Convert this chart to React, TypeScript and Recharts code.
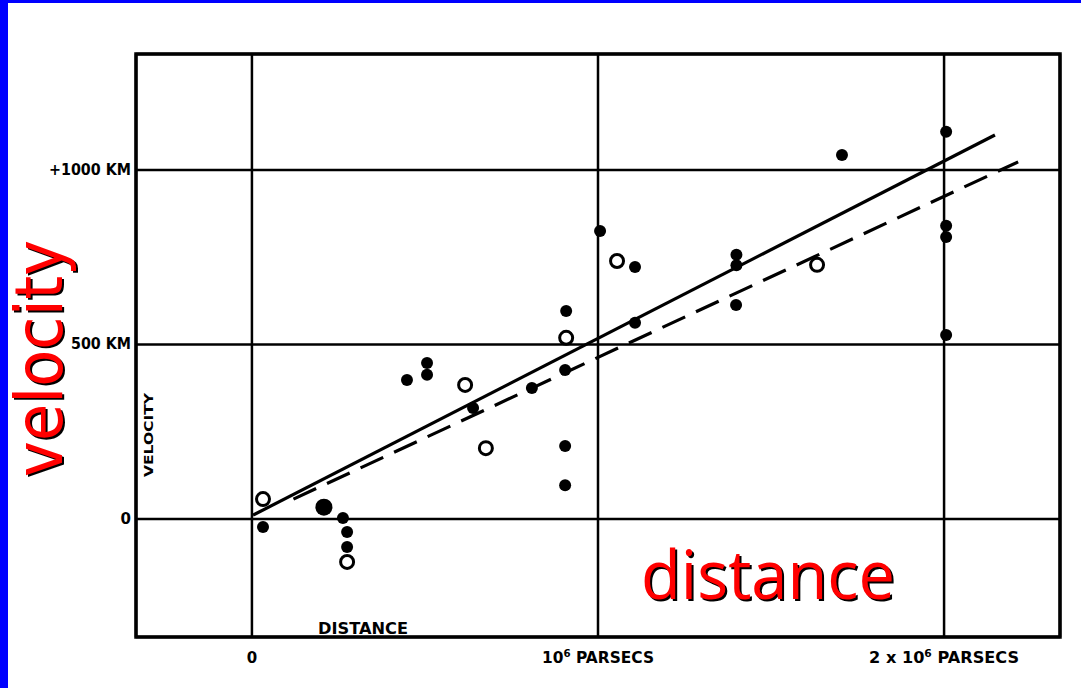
import { ReferenceArea, ReferenceLine, CartesianGrid, Scatter, ScatterChart, XAxis, YAxis } from "recharts"

// distance in megaparsecs, velocity in km/s
const filledDist = [0.032, 0.263, 0.275, 0.275, 0.448, 0.506, 0.506, 0.639, 0.809, 0.905, 0.905, 0.905, 0.908, 1.006, 1.107, 1.107, 1.4, 1.4, 1.399, 1.705, 2.006, 2.006, 2.006, 2.006]
const filledVel = [-23, 3, -37, -80, 398, 447, 413, 318, 375, 427, 209, 97, 596, 825, 722, 562, 757, 727, 613, 1043, 1109, 840, 808, 527]

const openDist = [0.032, 0.275, 0.616, 0.676, 0.908, 1.055, 1.633]
const openVel = [57, -123, 384, 203, 519, 739, 728]

const bigDist = [0.208]
const bigVel = [34]

const solidFitDist = [0.003, 2.147]
const solidFitVel = [11, 1100]
const dashedFitDist = [0.12, 2.214]
const dashedFitVel = [57, 1023]

const xTicks = [0, 1, 2]
const xTickLabels = [["0", "", ""], ["10", "6", " PARSECS"], ["2 x 10", "6", " PARSECS"]]
const xTickWidths = [0, 112, 150]
const yTicks = [0, 500, 1000]
const yTickLabels = ["0", "500 KM", "+1000 KM"]
const yTickWidths = [0, 60, 82]

const X_DOMAIN: [number, number] = [-0.335, 2.335]
const Y_DOMAIN: [number, number] = [-338, 1332]

const zip = (xs: number[], ys: number[]) => xs.map((x, i) => ({ x, y: ys[i] }))

const filled = zip(filledDist, filledVel)
const open = zip(openDist, openVel)
const big = zip(bigDist, bigVel)
const solidFit = zip(solidFitDist, solidFitVel)
const dashedFit = zip(dashedFitDist, dashedFitVel)

const tickFont = { fontFamily: "DejaVu Sans", fontWeight: 700, fill: "#000" }

function XTick({ x, y, payload }: any) {
  const i = xTicks.indexOf(payload.value)
  const [a, sup, rest] = xTickLabels[i]
  const w = xTickWidths[i]
  return (
    <text x={x} y={y + 24} textAnchor="middle" fontSize={15} {...tickFont}
      {...(w ? { textLength: w, lengthAdjust: "spacingAndGlyphs" } : {})}>
      {a}
      {sup && <tspan dy={-6} fontSize={10}>{sup}</tspan>}
      {rest && <tspan dy={6}>{rest}</tspan>}
    </text>
  )
}

function YTick({ x, y, payload }: any) {
  const i = yTicks.indexOf(payload.value)
  const w = yTickWidths[i]
  return (
    <text x={x} y={y + 5} textAnchor="end" fontSize={15} {...tickFont}
      {...(w ? { textLength: w, lengthAdjust: "spacingAndGlyphs" } : {})}>
      {yTickLabels[i]}
    </text>
  )
}

const dot = (r: number) => (p: any) => <circle cx={p.cx} cy={p.cy} r={r} fill="#000" />
const ring = (p: any) => <circle cx={p.cx} cy={p.cy} r={6.5} fill="#fff" stroke="#000" strokeWidth={3} />

export default function App() {
  return (
    <div style={{ position: "absolute", left: 0, top: 0, width: 1081, height: 688, background: "#0000ff" }}>
      <div style={{ position: "absolute", left: 8, top: 3, right: 0, bottom: 0, background: "#fff" }} />
      <div style={{ position: "absolute", left: 0, top: 0 }}>
        <ScatterChart width={1081} height={688} margin={{ left: 76, top: 54, right: 21, bottom: 21 }}>
          <CartesianGrid stroke="#000" strokeWidth={2.5} />
          <XAxis type="number" dataKey="x" domain={X_DOMAIN} ticks={xTicks} allowDataOverflow
            axisLine={false} tickLine={false} tickSize={0} tick={<XTick />} height={30} />
          <YAxis type="number" dataKey="y" domain={Y_DOMAIN} ticks={yTicks} allowDataOverflow
            axisLine={false} tickLine={false} tickSize={0} tickMargin={5} tick={<YTick />} width={60} />
          <ReferenceArea x1={X_DOMAIN[0]} x2={X_DOMAIN[1]} y1={Y_DOMAIN[0]} y2={Y_DOMAIN[1]}
            fill="none" stroke="#000" strokeWidth={3.5} ifOverflow="visible" />
          <ReferenceLine segment={solidFit} stroke="#000" strokeWidth={3.2} ifOverflow="visible" />
          <ReferenceLine segment={dashedFit} stroke="#000" strokeWidth={3.2} strokeDasharray="25 12" ifOverflow="visible" />
          <Scatter data={filled} shape={dot(6)} isAnimationActive={false} />
          <Scatter data={big} shape={dot(8.5)} isAnimationActive={false} />
          <Scatter data={open} shape={ring} isAnimationActive={false} />
        </ScatterChart>
      </div>
      <svg width={1081} height={688} style={{ position: "absolute", left: 0, top: 0, pointerEvents: "none" }}>
        <text x={0} y={0} transform="translate(153 435) rotate(-90)" textAnchor="middle" fontSize={12}
          textLength={84} lengthAdjust="spacingAndGlyphs" {...tickFont}>VELOCITY</text>
        <text x={363} y={634} textAnchor="middle" fontSize={15} textLength={90} lengthAdjust="spacingAndGlyphs"
          {...tickFont}>DISTANCE</text>
        <g fontFamily="Open Sans" fontSize={68}>
          <text x={770} y={601} textAnchor="middle" fill="#000" textLength={254} lengthAdjust="spacingAndGlyphs">distance</text>
          <text x={768} y={599} textAnchor="middle" fill="#ff0000" textLength={254} lengthAdjust="spacingAndGlyphs">distance</text>
        </g>
      </svg>
      <div style={{
        position: "absolute", left: 7, top: 477, fontFamily: "DejaVu Sans", fontSize: 66, lineHeight: 1,
        color: "#ff0000", textShadow: "-2px 2px 0 #000", whiteSpace: "nowrap",
        transformOrigin: "0 0", transform: "rotate(-90deg) scaleX(0.92)",
      }}>velocity</div>
    </div>
  )
}
